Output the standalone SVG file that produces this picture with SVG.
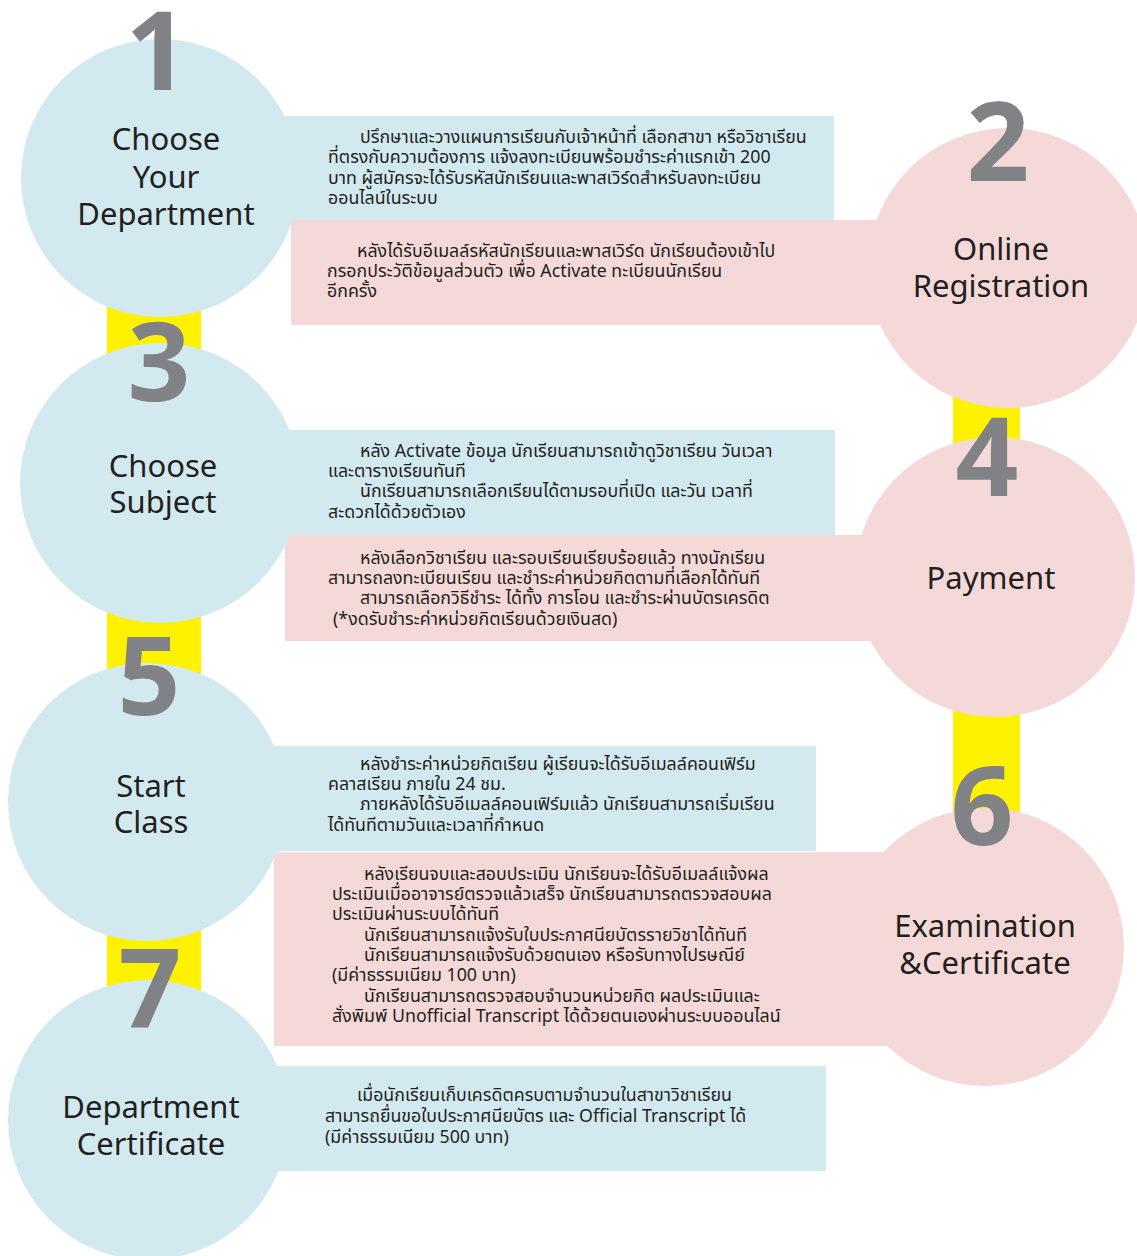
<svg xmlns="http://www.w3.org/2000/svg" width="1137" height="1256" viewBox="0 0 1137 1256">
<style>
.bar{fill:#FFF200}
.blue{fill:#D3E9F0}
.pink{fill:#F5D9D8}
.num{font-family:"Open Sans","Noto Sans",sans-serif;font-weight:700;font-size:110px;fill:#808285;text-anchor:middle}
.lbl{font-family:"Noto Sans","Lato",sans-serif;font-size:31px;fill:#231F20;text-anchor:middle}
.th{font-family:"Noto Sans Thai","Noto Sans","DejaVu Sans",sans-serif;font-size:17.8px;fill:#231F20}
</style>
<rect width="1137" height="1256" fill="#FFFFFF"/>
<g id="connectors">
<rect class="bar" x="107" y="250" width="94" height="780"/>
<rect class="bar" x="953" y="350" width="67" height="520"/>
</g>
<g id="boxes">
<rect class="blue" x="250" y="116" width="584" height="104"/>
<rect class="pink" x="291" y="220" width="640" height="105"/>
<rect class="blue" x="250" y="430" width="585" height="105"/>
<rect class="pink" x="285" y="535" width="640" height="106"/>
<rect class="blue" x="240" y="746" width="576" height="105"/>
<rect class="pink" x="274" y="852" width="640" height="194"/>
<rect class="blue" x="240" y="1066" width="586" height="105"/>
</g>
<g id="step1">
<circle class="blue" cx="160" cy="178" r="139"/>
<text class="num" x="157" y="90">1</text>
<text class="lbl" x="166" y="150">Choose</text>
<text class="lbl" x="166" y="188">Your</text>
<text class="lbl" x="166" y="225">Department</text>
</g>
<g id="step2">
<circle class="pink" cx="1008" cy="268" r="140"/>
<text class="num" x="998" y="181">2</text>
<text class="lbl" x="1001" y="260">Online</text>
<text class="lbl" x="1001" y="297">Registration</text>
</g>
<g id="step3">
<circle class="blue" cx="160" cy="483" r="140"/>
<text class="num" x="159" y="401">3</text>
<text class="lbl" x="163" y="477">Choose</text>
<text class="lbl" x="163" y="513">Subject</text>
</g>
<g id="step4">
<circle class="pink" cx="995" cy="577" r="140"/>
<text class="num" x="987" y="496">4</text>
<text class="lbl" x="991" y="589">Payment</text>
</g>
<g id="step5">
<circle class="blue" cx="147" cy="802" r="139"/>
<text class="num" x="149" y="715">5</text>
<text class="lbl" x="151" y="797">Start</text>
<text class="lbl" x="151" y="833">Class</text>
</g>
<g id="step6">
<circle class="pink" cx="985" cy="947" r="139"/>
<text class="num" x="982" y="845">6</text>
<text class="lbl" x="985" y="937">Examination</text>
<text class="lbl" x="985" y="974">&amp;Certificate</text>
</g>
<g id="step7">
<circle class="blue" cx="148" cy="1120" r="140"/>
<text class="num" x="150" y="1027">7</text>
<text class="lbl" x="151" y="1118">Department</text>
<text class="lbl" x="151" y="1155">Certificate</text>
</g>
<g id="texts">
<text class="th" x="360" y="143">ปรึกษาและวางแผนการเรียนกับเจ้าหน้าที่ เลือกสาขา หรือวิชาเรียน</text>
<text class="th" x="328" y="163">ที่ตรงกับความต้องการ แจ้งลงทะเบียนพร้อมชำระค่าแรกเข้า 200</text>
<text class="th" x="328" y="184">บาท ผู้สมัครจะได้รับรหัสนักเรียนและพาสเวิร์ดสำหรับลงทะเบียน</text>
<text class="th" x="328" y="204">ออนไลน์ในระบบ</text>
<text class="th" x="357" y="257">หลังได้รับอีเมลล์รหัสนักเรียนและพาสเวิร์ด นักเรียนต้องเข้าไป</text>
<text class="th" x="327" y="277">กรอกประวัติข้อมูลส่วนตัว เพื่อ Activate ทะเบียนนักเรียน</text>
<text class="th" x="327" y="297">อีกครั้ง</text>
<text class="th" x="360" y="457">หลัง Activate ข้อมูล นักเรียนสามารถเข้าดูวิชาเรียน วันเวลา</text>
<text class="th" x="328" y="477">และตารางเรียนทันที</text>
<text class="th" x="360" y="497">นักเรียนสามารถเลือกเรียนได้ตามรอบที่เปิด และวัน เวลาที่</text>
<text class="th" x="328" y="518">สะดวกได้ด้วยตัวเอง</text>
<text class="th" x="360" y="564">หลังเลือกวิชาเรียน และรอบเรียนเรียบร้อยแล้ว ทางนักเรียน</text>
<text class="th" x="328" y="584">สามารถลงทะเบียนเรียน และชำระค่าหน่วยกิตตามที่เลือกได้ทันที</text>
<text class="th" x="360" y="604">สามารถเลือกวิธีชำระ ได้ทั้ง การโอน และชำระผ่านบัตรเครดิต</text>
<text class="th" x="333" y="625">(*งดรับชำระค่าหน่วยกิตเรียนด้วยเงินสด)</text>
<text class="th" x="360" y="770">หลังชำระค่าหน่วยกิตเรียน ผู้เรียนจะได้รับอีเมลล์คอนเฟิร์ม</text>
<text class="th" x="328" y="790">คลาสเรียน ภายใน 24 ชม.</text>
<text class="th" x="360" y="810">ภายหลังได้รับอีเมลล์คอนเฟิร์มแล้ว นักเรียนสามารถเริ่มเรียน</text>
<text class="th" x="328" y="831">ได้ทันทีตามวันและเวลาที่กำหนด</text>
<text class="th" x="364" y="880">หลังเรียนจบและสอบประเมิน  นักเรียนจะได้รับอีเมลล์แจ้งผล</text>
<text class="th" x="332" y="900">ประเมินเมื่ออาจารย์ตรวจแล้วเสร็จ นักเรียนสามารถตรวจสอบผล</text>
<text class="th" x="332" y="920">ประเมินผ่านระบบได้ทันที</text>
<text class="th" x="364" y="941">นักเรียนสามารถแจ้งรับใบประกาศนียบัตรรายวิชาได้ทันที</text>
<text class="th" x="364" y="961">นักเรียนสามารถแจ้งรับด้วยตนเอง หรือรับทางไปรษณีย์</text>
<text class="th" x="332" y="981">(มีค่าธรรมเนียม 100 บาท)</text>
<text class="th" x="364" y="1002">นักเรียนสามารถตรวจสอบจำนวนหน่วยกิต ผลประเมินและ</text>
<text class="th" x="332" y="1022">สั่งพิมพ์ Unofficial Transcript ได้ด้วยตนเองผ่านระบบออนไลน์</text>
<text class="th" x="357" y="1101">เมื่อนักเรียนเก็บเครดิตครบตามจำนวนในสาขาวิชาเรียน</text>
<text class="th" x="325" y="1122">สามารถยื่นขอใบประกาศนียบัตร และ Official Transcript ได้</text>
<text class="th" x="325" y="1143">(มีค่าธรรมเนียม 500 บาท)</text>
</g>
</svg>
